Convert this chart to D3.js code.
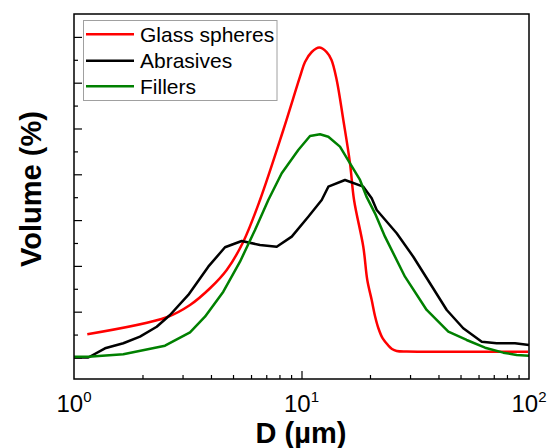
<!DOCTYPE html>
<html><head><meta charset="utf-8">
<script src="https://cdn.jsdelivr.net/npm/d3@7"></script>
<style>body{margin:0;background:#fff}svg{display:block;font-family:Arial,"Liberation Sans",sans-serif}</style>
</head><body><svg id="c" width="549" height="448"></svg>
<script>
const seriesNames = ["Glass spheres", "Abrasives", "Fillers"];
const seriesColors = ["#ff0000", "#000000", "#008000"];
const glassD = [1.144, 2.556, 3.236, 3.962, 4.691, 5.549, 6.57, 8.318, 9.85, 10.36, 11.09, 11.97, 12.9, 13.55, 14.28, 15.27, 16.34, 17.02, 18.69, 19.46, 20.35, 21.04, 21.76, 22.75, 24.07, 24.99, 26.21, 29.0, 40, 60, 99];
const glassV = [0.507, 0.878, 1.146, 1.511, 1.91, 2.528, 3.439, 4.967, 6.131, 6.452, 6.670, 6.769, 6.670, 6.496, 6.059, 5.186, 4.24, 3.439, 2.419, 1.692, 1.255, 0.906, 0.644, 0.415, 0.262, 0.186, 0.142, 0.128, 0.125, 0.125, 0.125];
const abrD = [1.0, 1.156, 1.369, 1.647, 1.95, 2.31, 2.642, 3.18, 3.893, 4.61, 5.46, 6.57, 7.78, 9.06, 10.71, 12.27, 13.12, 15.53, 18.69, 20.35, 21.41, 26.21, 31.0, 36.7, 43.5, 51.4, 62.0, 72.1, 86.8, 100];
const abrV = [0, 0, 0.2, 0.31, 0.454, 0.672, 0.928, 1.365, 1.983, 2.406, 2.544, 2.456, 2.419, 2.638, 3.074, 3.439, 3.729, 3.876, 3.729, 3.476, 3.22, 2.712, 2.2, 1.62, 1.037, 0.638, 0.345, 0.31, 0.31, 0.273];
const filD = [1.0, 1.156, 1.647, 2.512, 3.236, 3.765, 4.532, 5.367, 6.246, 7.147, 8.185, 9.68, 10.9, 12.06, 13.12, 14.76, 16.34, 18.08, 19.35, 21.04, 23.28, 28.5, 35.5, 44.2, 53.2, 64.1, 77.1, 88.3, 100];
const filV = [0.017, 0.017, 0.07, 0.258, 0.55, 0.891, 1.437, 2.092, 2.784, 3.439, 4.022, 4.531, 4.836, 4.873, 4.821, 4.603, 4.24, 3.876, 3.5, 3.148, 2.638, 1.764, 1.037, 0.563, 0.382, 0.214, 0.105, 0.055, 0.039];
const xTickValues = [1, 10, 100];
const xTickExp = ["0", "1", "2"];
const xLabel = "D (µm)";
const yLabel = "Volume (%)";

const svg = d3.select("#c");
const L = 74, R = 529, T = 14, B = 379;
const x = d3.scaleLog().domain([1, 100]).range([L, R]);
const y = d3.scaleLinear().domain([-0.47, 7.5]).range([B, T]);

// x minor/major ticks (inward)
const xMinor = [];
for (const dec of [1, 10]) for (let k = 2; k <= 9; k++) xMinor.push(k * dec);
const gx = svg.append("g").attr("transform", `translate(0,${B})`);
gx.call(d3.axisBottom(x).tickValues(xMinor).tickSizeInner(-4).tickSizeOuter(0).tickFormat(""));
gx.call(g => g.select(".domain").remove());
const gx2 = svg.append("g").attr("transform", `translate(0,${B})`);
gx2.call(d3.axisBottom(x).tickValues([10]).tickSizeInner(-8).tickSizeOuter(0).tickFormat(""));
gx2.call(g => g.select(".domain").remove());

// y ticks
const yMajor = d3.range(0, 8, 1);
const yMinor = d3.range(0.5, 7.5, 1);
const gy = svg.append("g").attr("transform", `translate(${L},0)`);
gy.call(d3.axisLeft(y).tickValues(yMajor).tickSizeInner(-8).tickSizeOuter(0).tickFormat(""));
gy.call(g => g.select(".domain").remove());
const gy2 = svg.append("g").attr("transform", `translate(${L},0)`);
gy2.call(d3.axisLeft(y).tickValues(yMinor).tickSizeInner(-4).tickSizeOuter(0).tickFormat(""));
gy2.call(g => g.select(".domain").remove());
svg.selectAll("g line").attr("stroke", "#000").attr("stroke-width", 1.2);

// x tick labels
xTickValues.forEach((v, i) => {
  const t = svg.append("text").attr("x", x(v)).attr("y", 411.5).attr("text-anchor", "middle")
    .attr("font-size", 24).attr("fill", "#000");
  t.append("tspan").text("10");
  t.append("tspan").attr("font-size", 15).attr("dy", -10).text(xTickExp[i]);
});

// lines
const datasets = [
  {d: glassD, v: glassV, curve: d3.curveCatmullRom.alpha(0.5)},
  {d: abrD, v: abrV, curve: d3.curveLinear},
  {d: filD, v: filV, curve: d3.curveLinear}
];
const plot = svg.append("g");
datasets.forEach((ds, i) => {
  const pts = ds.d.map((dd, j) => [dd, ds.v[j]]);
  const line = d3.line().x(p => x(p[0])).y(p => y(p[1])).curve(ds.curve);
  plot.append("path").attr("d", line(pts)).attr("fill", "none")
    .attr("stroke", seriesColors[i]).attr("stroke-width", 2.5).attr("stroke-linejoin", "round");
});

// frame
svg.append("rect").attr("x", L).attr("y", T).attr("width", R - L).attr("height", B - T)
  .attr("fill", "none").attr("stroke", "#000").attr("stroke-width", 1.5);

// legend
const lg = svg.append("g");
lg.append("rect").attr("x", 83.5).attr("y", 20.5).attr("width", 193.5).attr("height", 80)
  .attr("fill", "#fff").attr("stroke", "#a0a0a0").attr("stroke-width", 1);
const lgY = [34.3, 60.7, 86.3];
seriesNames.forEach((n, i) => {
  lg.append("line").attr("x1", 86).attr("x2", 134).attr("y1", lgY[i]).attr("y2", lgY[i])
    .attr("stroke", seriesColors[i]).attr("stroke-width", 2.5);
  lg.append("text").attr("x", 140).attr("y", lgY[i] + 7.5).attr("font-size", 21).attr("fill", "#000").text(n);
});

// axis titles
svg.append("text").attr("x", 301).attr("y", 443).attr("text-anchor", "middle")
  .attr("font-size", 29).attr("font-weight", "bold").text(xLabel);
svg.append("text").attr("transform", "translate(41,189) rotate(-90)").attr("text-anchor", "middle")
  .attr("font-size", 29).attr("font-weight", "bold").text(yLabel);
</script></body></html>
